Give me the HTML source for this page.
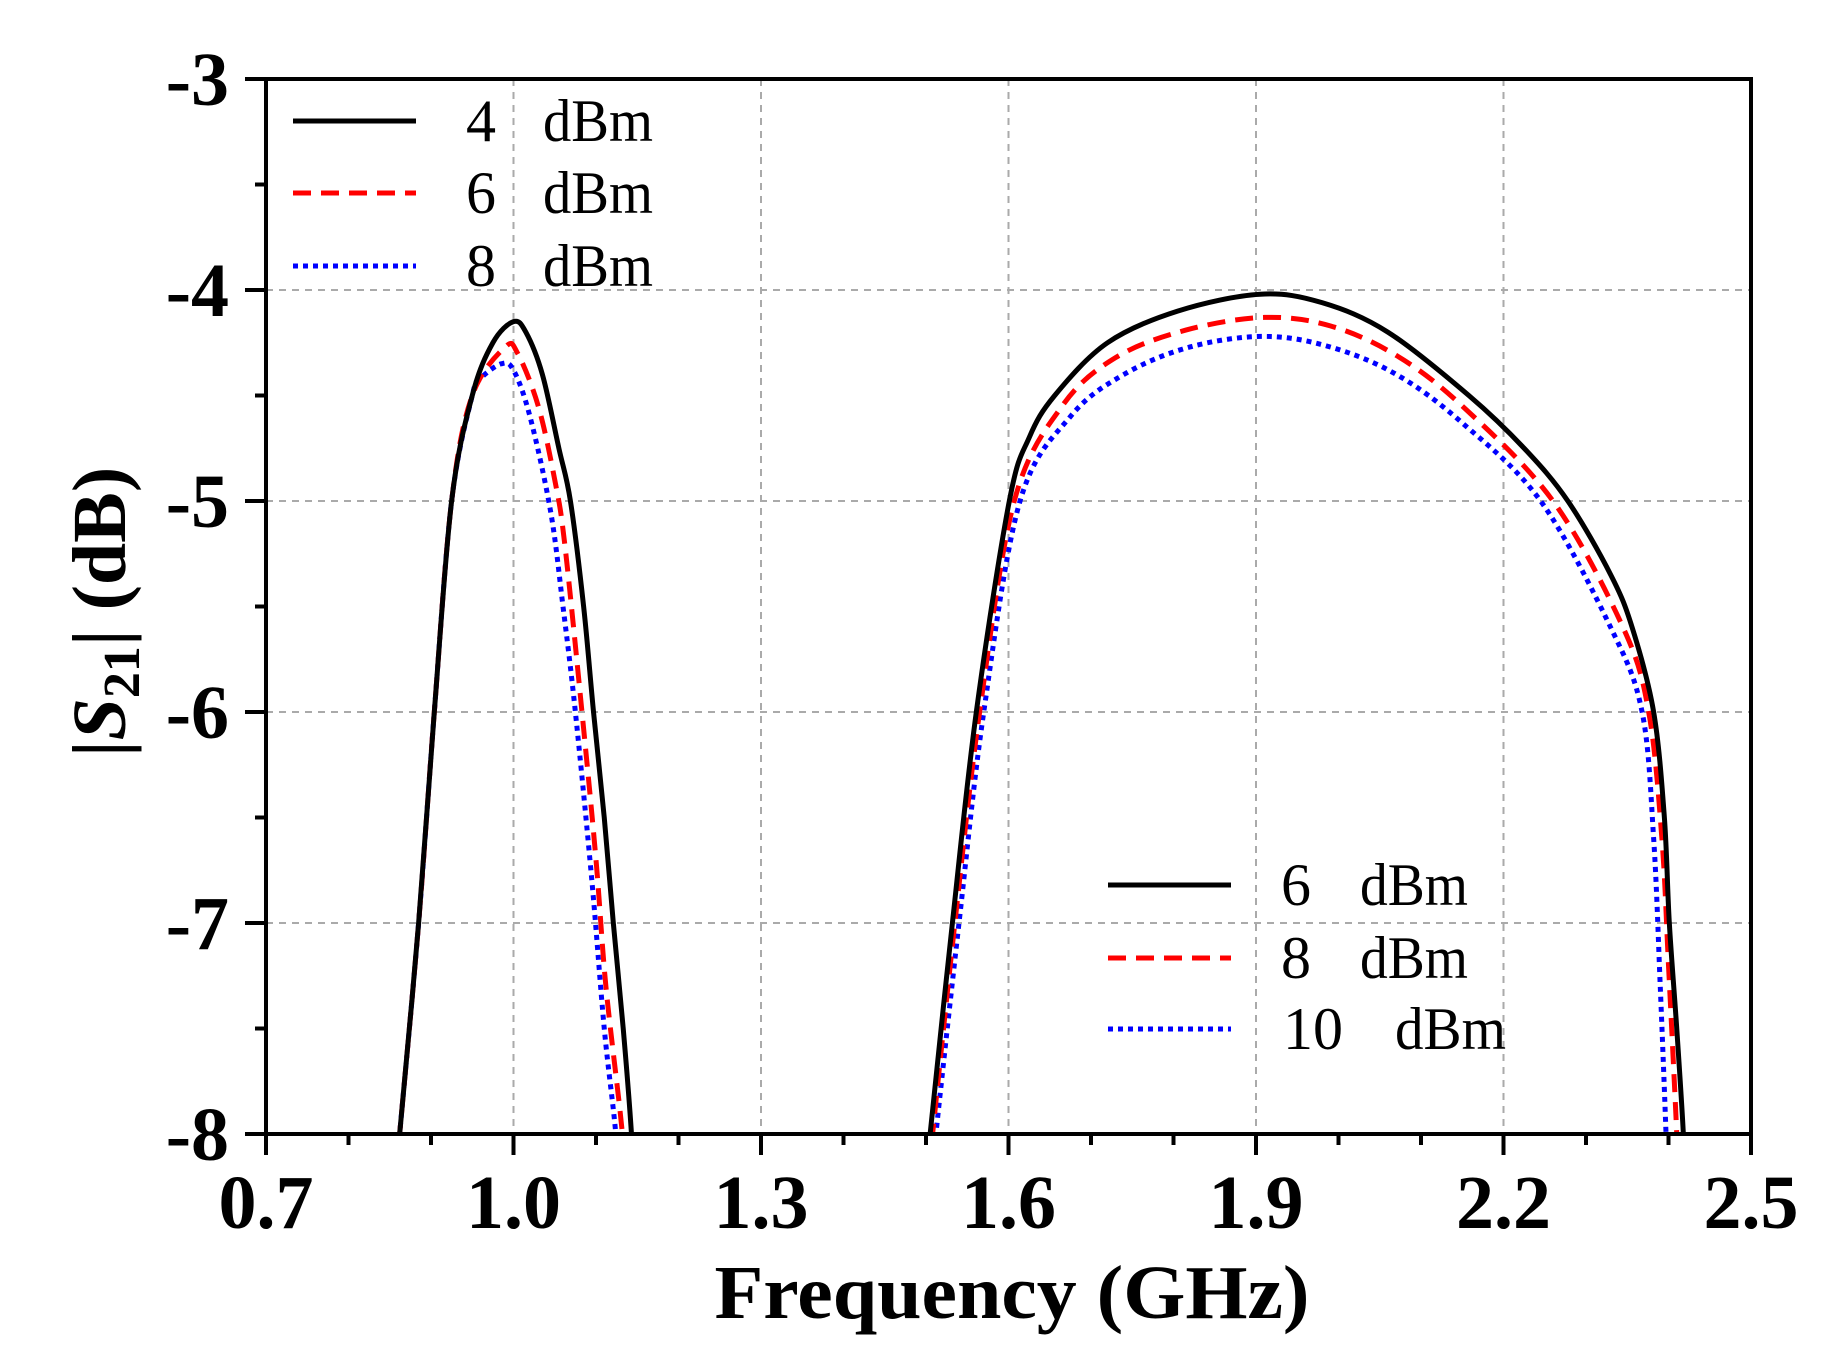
<!DOCTYPE html>
<html><head><meta charset="utf-8"><style>
html,body{margin:0;padding:0;background:#fff;}
svg{display:block;}
.tl{font-family:"Liberation Serif",serif;font-weight:bold;font-size:76px;fill:#000;}
.lg{font-family:"Liberation Serif",serif;font-size:60px;fill:#000;}
</style></head><body>
<svg id="s" width="1828" height="1353" viewBox="0 0 1828 1353" xmlns="http://www.w3.org/2000/svg">
<defs><clipPath id="c"><rect x="266" y="79" width="1485" height="1055"/></clipPath></defs>
<g id="grid" stroke="#aaa" stroke-width="2" stroke-dasharray="7,6"></g>
<g id="curves" clip-path="url(#c)" fill="none" stroke-width="5" stroke-linejoin="round"></g>
<rect x="266" y="79" width="1485" height="1055" fill="none" stroke="#000" stroke-width="4"/>
<g id="ticks" stroke="#000" stroke-width="4"></g>
<g id="labels"></g>
<text class="tl" x="0" y="0" transform="translate(1012,1318)" text-anchor="middle" font-size="76" textLength="595" lengthAdjust="spacingAndGlyphs">Frequency (GHz)</text>
<text class="tl" transform="translate(125,612) rotate(-90)" text-anchor="middle" font-size="74">|<tspan font-style="italic">S</tspan><tspan font-size="52" dy="14">21</tspan><tspan dy="-14">| (dB)</tspan></text>
<!-- legend 1 -->
<line x1="293" y1="121" x2="416" y2="121" stroke="#000" stroke-width="5"/>
<line x1="293" y1="193" x2="416" y2="193" stroke="#f00" stroke-width="5" stroke-dasharray="18,10"/>
<line x1="293" y1="266" x2="416" y2="266" stroke="#00f" stroke-width="5" stroke-dasharray="5,5"/>
<text class="lg" x="466" y="141">4</text><text class="lg" x="543" y="141" textLength="110" lengthAdjust="spacingAndGlyphs">dBm</text>
<text class="lg" x="466" y="213">6</text><text class="lg" x="543" y="213" textLength="110" lengthAdjust="spacingAndGlyphs">dBm</text>
<text class="lg" x="466" y="286">8</text><text class="lg" x="543" y="286" textLength="110" lengthAdjust="spacingAndGlyphs">dBm</text>
<!-- legend 2 -->
<line x1="1108" y1="885" x2="1231" y2="885" stroke="#000" stroke-width="5"/>
<line x1="1108" y1="958" x2="1231" y2="958" stroke="#f00" stroke-width="5" stroke-dasharray="18,10"/>
<line x1="1108" y1="1029" x2="1231" y2="1029" stroke="#00f" stroke-width="5" stroke-dasharray="5,5"/>
<text class="lg" x="1281" y="905">6</text><text class="lg" x="1360" y="905" textLength="108" lengthAdjust="spacingAndGlyphs">dBm</text>
<text class="lg" x="1281" y="978">8</text><text class="lg" x="1360" y="978" textLength="108" lengthAdjust="spacingAndGlyphs">dBm</text>
<text class="lg" x="1283" y="1049">10</text><text class="lg" x="1395" y="1049" textLength="111" lengthAdjust="spacingAndGlyphs">dBm</text>
</svg>
<script>
var NS="http://www.w3.org/2000/svg";
function X(f){return 266+(f-0.7)/0.3*247.5;}
function Y(d){return 79+(-3-d)*211;}
function el(p,t,a,txt){var e=document.createElementNS(NS,t);for(var k in a)e.setAttribute(k,a[k]);if(txt!=null)e.textContent=txt;document.getElementById(p).appendChild(e);return e;}
[1.0,1.3,1.6,1.9,2.2].forEach(function(f){el("grid","line",{x1:X(f),y1:79,x2:X(f),y2:1134});});
[-4,-5,-6,-7].forEach(function(d){el("grid","line",{x1:266,y1:Y(d),x2:1751,y2:Y(d)});});
for(var i=0;i<=18;i++){var f=0.7+i*0.1;var maj=(i%3==0);el("ticks","line",{x1:X(f),y1:1134,x2:X(f),y2:1134+(maj?21:11)});}
for(var i=0;i<=10;i++){var d=-3-i*0.5;var maj=(i%2==0);el("ticks","line",{x1:266,y1:Y(d),x2:266-(maj?21:11),y2:Y(d)});}
["0.7","1.0","1.3","1.6","1.9","2.2","2.5"].forEach(function(s,i){el("labels","text",{"class":"tl",x:X(0.7+i*0.3),y:1228,"text-anchor":"middle"},s);});
["-3","-4","-5","-6","-7","-8"].forEach(function(s,i){el("labels","text",{"class":"tl",x:229,y:Y(-3-i)+26,"text-anchor":"end"},s);});
function path(pts){var P=pts.map(function(p){return [X(p[0]),Y(p[1])];});var d="M"+P[0][0]+","+P[0][1];
for(var i=0;i<P.length-1;i++){var p0=P[i-1]||P[i],p1=P[i],p2=P[i+1],p3=P[i+2]||P[i+1];
var c1=[p1[0]+(p2[0]-p0[0])/6,p1[1]+(p2[1]-p0[1])/6],c2=[p2[0]-(p3[0]-p1[0])/6,p2[1]-(p3[1]-p1[1])/6];
d+=" C"+c1[0]+","+c1[1]+" "+c2[0]+","+c2[1]+" "+p2[0]+","+p2[1];}return d;}
var rise=[[0.862,-8],[0.885,-7],[0.904,-6],[0.925,-5],[0.95,-4.5]];
var B1=[[0.855,-8.3],[0.862,-8],[0.885,-7],[0.904,-6],[0.925,-5],[0.95,-4.5],[0.975,-4.25],[1.0,-4.15],[1.015,-4.2],[1.035,-4.4],[1.055,-4.75],[1.069,-5],[1.085,-5.5],[1.097,-6],[1.11,-6.5],[1.121,-7],[1.133,-7.5],[1.143,-8],[1.146,-8.3]];
var R1=[[0.855,-8.3]].concat(rise,[[0.99,-4.27],[1.005,-4.3],[1.03,-4.55],[1.05,-4.9],[1.062,-5.2],[1.083,-6],[1.1,-6.7],[1.112,-7.3],[1.132,-8],[1.135,-8.3]]);
var U1=[[0.855,-8.3]].concat(rise,[[0.96,-4.42],[0.985,-4.35],[1.0,-4.38],[1.02,-4.6],[1.045,-5.05],[1.06,-5.5],[1.075,-6],[1.095,-6.8],[1.11,-7.5],[1.124,-8],[1.127,-8.3]]);
var B2=[[1.498,-8.3],[1.505,-8],[1.532,-7],[1.561,-6],[1.601,-5],[1.625,-4.7],[1.656,-4.5],[1.72,-4.25],[1.805,-4.1],[1.905,-4.02],[1.98,-4.06],[2.06,-4.2],[2.158,-4.5],[2.225,-4.75],[2.278,-5],[2.33,-5.35],[2.356,-5.6],[2.382,-6],[2.395,-6.5],[2.401,-7],[2.41,-7.5],[2.418,-8],[2.42,-8.3]];
var R2=[[1.501,-8.3],[1.508,-8],[1.535,-7],[1.565,-6],[1.607,-5],[1.665,-4.55],[1.73,-4.32],[1.815,-4.19],[1.91,-4.13],[1.99,-4.17],[2.07,-4.31],[2.15,-4.55],[2.26,-5.0],[2.345,-5.6],[2.376,-6],[2.392,-6.6],[2.4,-7.2],[2.41,-8],[2.412,-8.3]];
var U2=[[1.505,-8.3],[1.512,-8],[1.54,-7],[1.57,-6],[1.614,-5],[1.675,-4.6],[1.74,-4.4],[1.82,-4.27],[1.91,-4.22],[1.99,-4.27],[2.07,-4.4],[2.15,-4.63],[2.245,-5.0],[2.33,-5.6],[2.368,-6],[2.382,-6.6],[2.39,-7.3],[2.397,-8],[2.399,-8.3]];
[[U1,"#00f","5,5"],[U2,"#00f","5,5"],[R1,"#f00","18,10"],[R2,"#f00","18,10"],[B1,"#000",""],[B2,"#000",""]].forEach(function(s){
var a={d:path(s[0]),stroke:s[1]};if(s[2])a["stroke-dasharray"]=s[2];el("curves","path",a);});
</script>
</body></html>
